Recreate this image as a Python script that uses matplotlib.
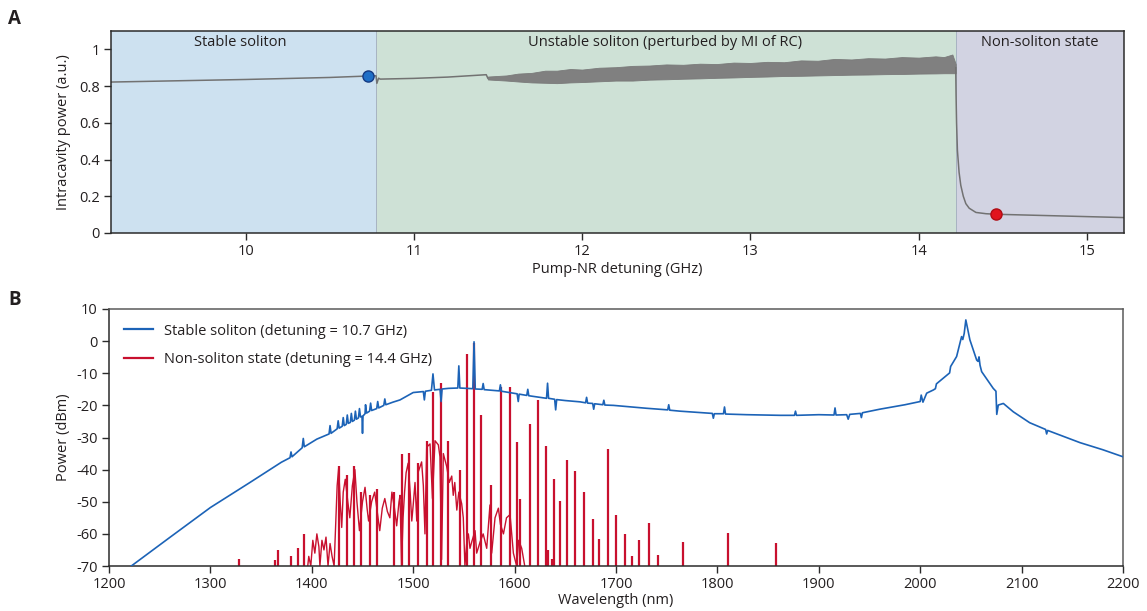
import matplotlib
matplotlib.use("Agg")
import matplotlib.pyplot as plt
import numpy as np

plt.rcParams['font.family'] = ['Open Sans', 'DejaVu Sans']
plt.rcParams['axes.unicode_minus'] = False

# ---------------- Panel A data ----------------
regions = [(9.2, 10.775, "Stable soliton", "#cde1f0"),
           (10.775, 14.22, "Unstable soliton (perturbed by MI of RC)", "#cee1d6"),
           (14.22, 15.22, "Non-soliton state", "#d2d3e2")]
label_x = [9.97, 12.49, 14.72]

det_stable = [9.2, 10.0, 10.5, 10.73, 10.775, 10.78, 10.79, 10.8, 11.0, 11.2, 11.43, 11.44]
pow_stable = [0.822, 0.836, 0.847, 0.855, 0.856, 0.815, 0.843, 0.838, 0.842, 0.849, 0.862, 0.842]

det_osc = [11.44, 11.55, 11.62, 11.7, 11.78, 11.85, 11.93, 12.0, 12.1, 12.2, 12.3, 12.4,
           12.5, 12.6, 12.7, 12.8, 12.9, 13.0, 13.1, 13.2, 13.3, 13.4, 13.5, 13.6, 13.7,
           13.8, 13.9, 14.0, 14.1, 14.15, 14.2, 14.22]
osc_upper = [0.852, 0.858, 0.868, 0.872, 0.884, 0.884, 0.893, 0.89, 0.9, 0.903, 0.91, 0.912,
             0.918, 0.916, 0.922, 0.92, 0.928, 0.926, 0.932, 0.93, 0.94, 0.938, 0.948, 0.945,
             0.952, 0.95, 0.958, 0.955, 0.962, 0.958, 0.972, 0.92]
osc_lower = [0.836, 0.83, 0.825, 0.82, 0.818, 0.816, 0.82, 0.822, 0.826, 0.83, 0.83, 0.835,
             0.837, 0.84, 0.842, 0.845, 0.847, 0.85, 0.852, 0.855, 0.856, 0.858, 0.86, 0.862,
             0.863, 0.865, 0.866, 0.868, 0.869, 0.87, 0.87, 0.87]

det_drop = [14.22, 14.222, 14.225, 14.23, 14.24, 14.25, 14.265, 14.28, 14.3, 14.34, 14.4, 14.46, 15.22]
pow_drop = [0.90, 0.75, 0.60, 0.45, 0.33, 0.26, 0.20, 0.16, 0.135, 0.112, 0.105, 0.102, 0.084]

pt_blue = (10.73, 0.855)
pt_red = (14.46, 0.102)

# ---------------- Panel B data ----------------
wl_blue = [1222, 1260, 1300, 1339, 1370, 1378.5, 1379.5, 1380.5, 1390.5, 1391.6, 1392.6,
           1405, 1417, 1418, 1419, 1425, 1426, 1427, 1430, 1431, 1432, 1434, 1435, 1436,
           1438, 1439, 1440, 1442, 1443, 1444, 1446, 1447, 1448, 1449.5, 1450, 1450.5,
           1452.5, 1453, 1454, 1457, 1458, 1459, 1464, 1465, 1466, 1471, 1472, 1473,
           1480, 1487, 1500, 1510, 1511, 1512, 1518, 1519.5, 1521, 1526.5, 1527.5, 1528.5,
           1535, 1544, 1545, 1546, 1558.8, 1560, 1561.2, 1568, 1569, 1570, 1585, 1586, 1587,
           1602.5, 1603.6, 1604.5, 1612, 1613, 1614, 1631.5, 1632.5, 1633.5, 1639.5, 1640.5,
           1641.5, 1650, 1664.5, 1670, 1671, 1672, 1677, 1678, 1679, 1687, 1688, 1689,
           1697.4, 1730, 1751, 1752, 1753, 1763, 1795, 1796, 1797, 1806, 1807, 1808,
           1829, 1862, 1876, 1877, 1878, 1900, 1915, 1916, 1917, 1927.5, 1929, 1930.5,
           1941, 1942, 1943, 1960, 1985, 2000, 2001, 2002.7, 2006.4, 2013, 2015, 2016,
           2027.7, 2029, 2030, 2035.9, 2040.8, 2042, 2043.4, 2045, 2049, 2055.7, 2057,
           2058, 2059, 2060.6, 2072, 2074.7, 2075.5, 2077, 2082, 2091.8, 2108, 2123.7,
           2124.7, 2125.7, 2157.6, 2180, 2200]
db_blue = [-70, -61.1, -51.8, -44, -37.7, -36.3, -34.5, -36.0, -33.2, -30.3, -32.9,
           -30.5, -28.9, -26.3, -28.7, -27.3, -24.8, -27.1, -26.5, -23.8, -26.3, -25.9, -23.0,
           -25.6, -25.3, -22.5, -25.0, -24.6, -21.8, -24.3, -23.9, -21.0, -23.6, -23.4, -28.7,
           -23.3, -22.6, -19.8, -22.4, -21.8, -19.3, -21.6, -21.0, -18.8, -20.8, -20.0, -18.0,
           -19.8, -19.0, -18.3, -16.0, -15.7, -18.3, -15.6, -15.3, -10.2, -15.2, -15.0, -18.8,
           -14.9, -14.7, -14.6, -7.7, -14.6, -14.8, -0.2, -14.9, -15.0, -13.2, -15.1, -15.5,
           -13.6, -15.6, -16.4, -18.8, -16.5, -16.9, -15.0, -17.0, -17.8, -13.1, -17.8,
           -18.1, -21.4, -18.2, -18.5, -18.9, -19.2, -17.5, -19.3, -19.4, -21.2, -19.5,
           -19.8, -18.4, -19.9, -20.0, -20.9, -21.4, -19.8, -21.5, -21.8, -22.5, -24.0,
           -22.6, -22.6, -20.5, -22.7, -22.9, -23.1, -23.1, -21.8, -23.1, -22.9, -23.0,
           -20.8, -23.0, -22.9, -24.3, -22.8, -22.5, -23.8, -22.3, -21.2, -19.8, -18.8, -16.8,
           -19.0, -16.2, -15.2, -14.8, -13.3, -10.2, -9.9, -7.9, -4.8, 1.4, 0.5, 2.4, 6.6,
           0.4, -5.9, -6.3, -4.9, -7.5, -9.5, -14.7, -15.6, -22.8, -19.9, -19.4, -22.0,
           -25.4, -27.5, -28.9, -27.8, -31.6, -33.8, -36.0]

wl_red_noise = [1396, 1397, 1399, 1401, 1403, 1405, 1407, 1408, 1410, 1412, 1414, 1416,
                1418, 1420, 1422, 1425, 1426.5, 1428, 1429.5, 1431, 1433, 1435.5, 1437.5,
                1440, 1442.5, 1444.5, 1447, 1450, 1452.5, 1454.5, 1456, 1459, 1462, 1464.5,
                1467, 1469.5, 1472, 1474.5, 1477, 1479, 1481.5, 1483.7, 1486, 1487, 1488.5,
                1490, 1491.5, 1493, 1495, 1497, 1498.6, 1500, 1501.8, 1503.5, 1505, 1508.3,
                1510, 1511.6, 1513.3, 1516.6, 1519, 1521.5, 1524.8, 1526.4, 1528, 1529.7,
                1533, 1535.6, 1538, 1539.5, 1541, 1543, 1545, 1547.8, 1549.4, 1551, 1553,
                1554.4, 1556, 1557.7, 1561, 1562.6, 1566, 1569, 1572.5, 1575.7, 1577.4,
                1580.7, 1584, 1586, 1589, 1592, 1595.5, 1598.8, 1602, 1604, 1607, 1610]
db_red_noise = [-70, -67, -70, -62, -66, -60, -64, -70, -62, -65, -61, -70,
                -63, -67, -70, -45, -39.5, -50, -58, -47, -43, -50, -55,
                -45, -40, -50, -59, -50, -45.5, -52, -56, -50, -47, -53,
                -59, -52, -49, -53, -55, -47, -52, -57.5, -50, -48, -70,
                -55, -47, -41, -38, -47, -56, -51, -44, -56, -40.7, -37.6,
                -45, -60, -33, -32, -49, -31, -32.3, -36, -68, -35,
                -39, -44, -42, -48, -44, -52.6, -47, -50.6, -55, -70, -62,
                -60, -64.5, -62.5, -59, -66, -62.5, -60, -64.5, -51, -66,
                -55, -52, -57, -60, -55, -54, -66, -70, -62, -64.5, -70]

wl_comb = [1328, 1364, 1367, 1379, 1386.5, 1392, 1427, 1435, 1442, 1449, 1457, 1464,
           1481, 1488.5, 1496, 1505, 1514, 1520, 1527, 1534, 1546, 1553.4, 1560, 1567,
           1576.4, 1587, 1595, 1602, 1605, 1615, 1623, 1630.7, 1632.6, 1637, 1638.5, 1645,
           1652, 1660, 1668.4, 1677, 1683, 1691.8, 1700, 1708.5, 1716, 1723, 1732.5, 1741,
           1765.7, 1810, 1857.5]
db_comb = [-67.8, -68, -65, -66.8, -64.5, -60, -39, -41.7, -39, -47, -48, -46,
           -47, -35, -34.7, -38, -31, -15.7, -13.1, -31, -40, -4, -0.6, -23,
           -44.8, -14.2, -14.2, -31.3, -49, -25.9, -18.3, -32.5, -65, -67.8, -43, -49.9,
           -37, -40.3, -46.9, -55.5, -61.7, -33.7, -54.2, -60, -66.9, -62, -56.5, -66.6,
           -62.4, -59.7, -62.9]

legend_labels = ["Stable soliton (detuning = 10.7 GHz)",
                 "Non-soliton state (detuning = 14.4 GHz)"]

# ---------------- Figure ----------------
W, H = 1147, 611
fig = plt.figure(figsize=(W / 100, H / 100), dpi=100)
FS = 10.5
axcol = "#2b2b2b"
txtcol = "#231f20"

def px_axes(l, t, r, b):
    return fig.add_axes([l / W, 1 - b / H, (r - l) / W, (b - t) / H])

# Panel A
axA = px_axes(111, 31, 1124, 233)
for (x0, x1, lab, col), lx in zip(regions, label_x):
    axA.axvspan(x0, x1, color=col, lw=0, zorder=0)
    axA.text(lx, 1.037, lab, ha='center', va='center', fontsize=FS, color=txtcol)
for xb in [regions[0][1], regions[1][1]]:
    axA.axvline(xb, color="#a7b3c2", lw=0.7, zorder=0.5)

gray = "#727272"
axA.plot(det_stable, pow_stable, color=gray, lw=1.1, zorder=2)
axA.fill_between(det_osc, osc_lower, osc_upper, color="#808080", lw=0.6,
                 edgecolor="#7a7a7a", zorder=2)
axA.plot(det_drop, pow_drop, color=gray, lw=1.1, zorder=2)
axA.plot(*pt_blue, 'o', ms=8, mfc="#1f6fc7", mec="#153a82", mew=1.0, zorder=3)
axA.plot(*pt_red, 'o', ms=8, mfc="#e1141e", mec="#b00d15", mew=1.0, zorder=3)

axA.set_xlim(9.2, 15.22)
axA.set_ylim(0, 1.1)
axA.set_xticks([10, 11, 12, 13, 14, 15])
axA.set_xticklabels(["10", "11", "12", "13", "14", "15"])
axA.set_yticks([0, 0.2, 0.4, 0.6, 0.8, 1.0])
axA.set_yticklabels(["0", "0.2", "0.4", "0.6", "0.8", "1"])
axA.set_xlabel("Pump-NR detuning (GHz)", fontsize=FS, color=txtcol, labelpad=2)
axA.set_ylabel("Intracavity power (a.u.)", fontsize=FS, color=txtcol, labelpad=6)

# Panel B
axB = px_axes(109, 309, 1123, 566)
axB.plot(wl_red_noise, db_red_noise, color="#c8102e", lw=1.0, zorder=2)
axB.vlines(wl_comb, -70, db_comb, color="#c8102e", lw=1.6, zorder=2)
axB.plot(wl_blue, db_blue, color="#1c63b7", lw=1.2, zorder=3)
axB.set_xlim(1200, 2200)
axB.set_ylim(-70, 10)
axB.set_xticks(np.arange(1200, 2201, 100))
axB.set_yticks(np.arange(-70, 11, 10))
axB.set_xlabel("Wavelength (nm)", fontsize=FS, color=txtcol, labelpad=1)
axB.set_ylabel("Power (dBm)", fontsize=FS, color=txtcol, labelpad=4)

from matplotlib.lines import Line2D
handles = [Line2D([], [], color="#1c63b7", lw=1.6), Line2D([], [], color="#c8102e", lw=1.6)]
axB.legend(handles, legend_labels, loc='upper left', bbox_to_anchor=(0.0, 1.0),
           frameon=False, fontsize=FS, handlelength=2.0, handletextpad=0.8,
           labelspacing=0.95, borderaxespad=0.6, labelcolor=txtcol)

for ax in (axA, axB):
    ax.tick_params(direction='out', length=5, width=1.0, colors=axcol, labelsize=FS,
                   labelcolor=txtcol, pad=3)
    for s in ax.spines.values():
        s.set_color(axcol)
        s.set_linewidth(1.1)
for s in ('top', 'right'):
    axB.spines[s].set_color("#5a5a5a")

fig.text(8 / W, 1 - 19 / H, "A", fontsize=13.5, fontweight='bold', color=txtcol, va='center')
fig.text(8 / W, 1 - 300 / H, "B", fontsize=13.5, fontweight='bold', color=txtcol, va='center')

fig.savefig("out.png", dpi=100)
